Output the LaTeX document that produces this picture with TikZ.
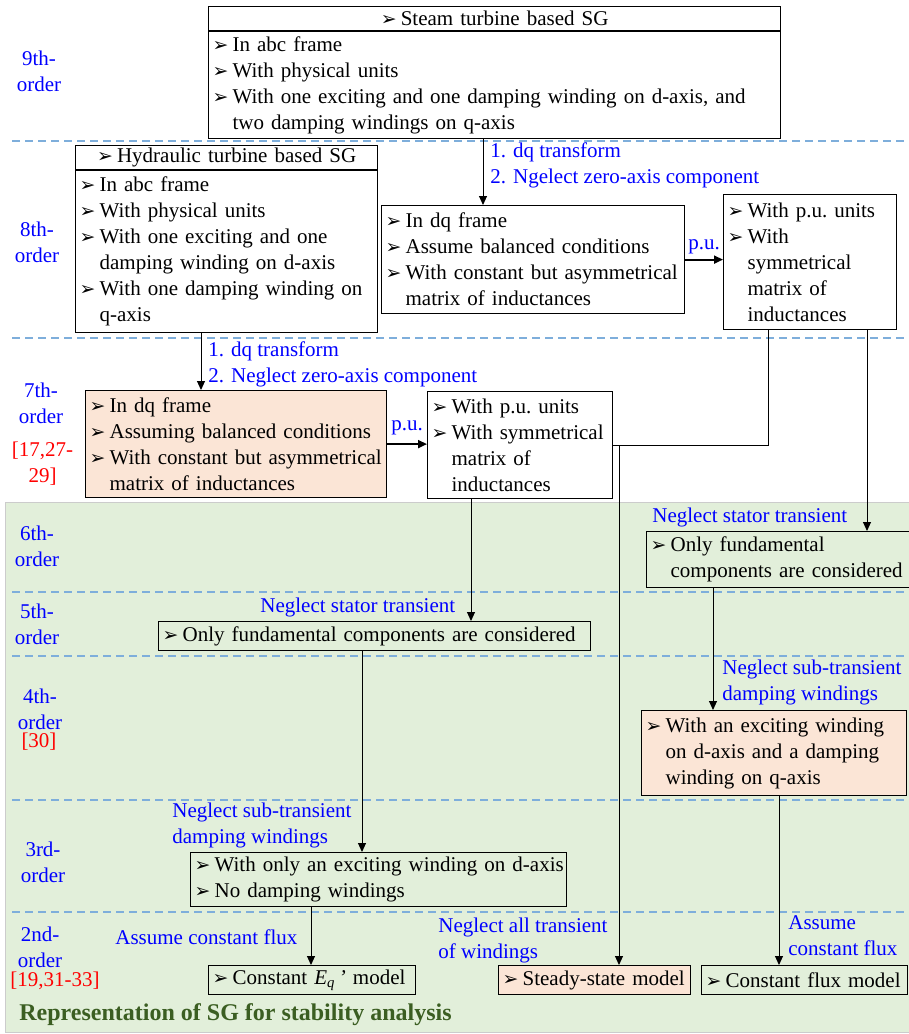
\documentclass[tikz,border=0pt]{standalone}
\usepackage{fontspec}
\setmainfont{Liberation Serif}
\newfontfamily\symfont{DejaVu Sans}[Scale=0.9]
\usepackage{xcolor}
\usetikzlibrary{arrows.meta,calc}

\definecolor{peach}{HTML}{FBE5D6}
\definecolor{bggreen}{HTML}{E2EFDA}
\definecolor{lvlblue}{HTML}{7EAEDB}
\definecolor{titlegreen}{HTML}{3B5E22}

\newcommand{\bul}{{\symfont ➢}\hspace{0.2em}}
\newcommand{\itm}[1]{\mbox{\bul #1}}
\newcommand{\cnt}[1]{\mbox{\phantom{\bul}#1}}

\begin{document}
\begin{tikzpicture}[
    x=0.5pt, y=-0.5pt,
    font=\fontsize{10.5}{13}\selectfont,
    box/.style    = {draw=black, line width=0.6pt, anchor=north west, inner xsep=2pt, inner ysep=0pt, align=left},
    hd/.style     = {box, align=center},
    pbox/.style   = {box, fill=peach},
    lbl/.style    = {text=blue, anchor=west, align=left, inner sep=0pt},
    ord/.style    = {text=blue, align=center, inner sep=0pt},
    refs/.style   = {text=red, align=center, inner sep=0pt},
    lvl/.style    = {draw=lvlblue, line width=0.7pt, dash pattern=on 4pt off 2.5pt},
    link/.style   = {draw=black, line width=0.5pt},
    arr/.style    = {link, -{Triangle[length=4.5pt,width=4pt]}},
    arrpu/.style  = {arr, line width=0.9pt},
]
\useasboundingbox (0,0) rectangle (909,1034);

%======== background and order levels ========
\fill[bggreen, draw=black!20] (5,502) rectangle (909,1032);
\foreach \y in {141, 338, 592, 656, 800, 912}
    \draw[lvl] (12,\y) -- (909,\y);

\node[ord] (o9) at (39,71)    {9th-\\order};
\node[ord] (o8) at (37,242.5) {8th-\\order};
\node[ord] (o7) at (41,403)   {7th-\\order};
\node[refs] (r7) at (42.5,464) {[17,27-\\29]};
\node[ord] (o6) at (37,546)   {6th-\\order};
\node[ord] (o5) at (37,624.5) {5th-\\order};
\node[ord] (o4) at (40,709)   {4th-\\order};
\node[refs] (r4) at (39,742)  {[30]};
\node[ord] (o3) at (43,862)   {3rd-\\order};
\node[ord] (o2) at (40,947)   {2nd-\\order};
\node[refs] (r2) at (55,981)  {[19,31-33]};

%======== 9th / 8th order ========
\node[hd, text width=282pt, minimum height=12pt] (steamhd) at (208,6) {\bul Steam turbine based SG};
\node[box, text width=282pt, minimum height=53.5pt] (steam) at (steamhd.south west)
  {\itm{In abc frame}\\ \itm{With physical units}\\
   \itm{With one exciting and one damping winding on d-axis, and}\\ \cnt{two damping windings on q-axis}};
\draw[line width=1.2pt] (steamhd.south west) -- (steamhd.south east);

\node[hd, text width=147pt, minimum height=12pt] (hydrohd) at (75,145) {\bul Hydraulic turbine based SG};
\node[box, text width=147pt, minimum height=81pt] (hydro) at (hydrohd.south west)
  {\itm{In abc frame}\\ \itm{With physical units}\\ \itm{With one exciting and one}\\
   \cnt{damping winding on d-axis}\\ \itm{With one damping winding on}\\ \cnt{q-axis}};
\draw[line width=1.2pt] (hydrohd.south west) -- (hydrohd.south east);

\node[box, text width=147.5pt, minimum height=54pt] (dqeight) at (381,205)
  {\itm{In dq frame}\\ \itm{Assume balanced conditions}\\
   \itm{With constant but asymmetrical}\\ \cnt{matrix of inductances}};
\node[box, text width=82.5pt, minimum height=67.5pt] (pueight) at (723,194)
  {\itm{With p.u.\ units}\\ \itm{With}\\ \cnt{symmetrical}\\ \cnt{matrix of}\\ \cnt{inductances}};

%======== 7th order ========
\node[pbox, text width=146.5pt, minimum height=53.5pt] (dqseven) at (85,390)
  {\itm{In dq frame}\\ \itm{Assuming balanced conditions}\\
   \itm{With constant but asymmetrical}\\ \cnt{matrix of inductances}};
\node[box, fill=white, text width=88.5pt, minimum height=53.5pt] (puseven) at (427,391)
  {\itm{With p.u.\ units}\\ \itm{With symmetrical}\\ \cnt{matrix of}\\ \cnt{inductances}};

%======== 6th to 2nd order ========
\node[box, text width=131pt, minimum height=28pt] (sixth) at (646,531)
  {\itm{Only fundamental}\\ \cnt{components are considered}};
\node[box, text width=212pt, minimum height=14.5pt] (fifth) at (158,621)
  {\itm{Only fundamental components are considered}};
\node[pbox, text width=128.5pt, minimum height=42.5pt] (fourth) at (641,710)
  {\itm{With an exciting winding}\\ \cnt{on d-axis and a damping}\\ \cnt{winding on q-axis}};
\node[box, text width=184pt, minimum height=27pt] (third) at (190,852)
  {\itm{With only an exciting winding on d-axis}\\ \itm{No damping windings}};
\node[box, text width=99.5pt, minimum height=14.5pt] (eqmodel) at (208,965)
  {\itm{Constant \textit{E}\textsubscript{\textit{q}}\,\textit{'} model}};
\node[pbox, text width=92pt, minimum height=14.5pt] (steady) at (498,965)
  {\itm{Steady-state model}};
\node[box, text width=99pt, minimum height=14.5pt] (fluxmodel) at (701,965)
  {\itm{Constant flux model}};

%======== connector columns ========
\coordinate (cx1) at (483,0);
\coordinate (cx2) at (201,0);
\coordinate (cx3) at (768,0);
\coordinate (cx4) at (867,0);
\coordinate (cx5) at (471,0);
\coordinate (cx6) at (619,0);
\coordinate (cx7) at (362,0);
\coordinate (cx8) at (713,0);
\coordinate (cx9) at (311,0);
\coordinate (cx10) at (779,0);

\draw[arr] (steam.south -| cx1) -- (dqeight.north -| cx1);
\draw[arrpu] (dqeight.east) -- (dqeight.east -| pueight.west);
\draw[arr] (hydro.south -| cx2) -- (dqseven.north -| cx2);
\draw[arrpu] (dqseven.east) -- (dqseven.east -| puseven.west);
\draw[link] (pueight.south -| cx3) |- (puseven.east);
\coordinate (jn) at (puseven.east -| cx6);
\draw[arr] (jn) -- (steady.north -| jn);
\draw[arr] (pueight.south -| cx4) -- (sixth.north -| cx4);
\draw[arr] (puseven.south -| cx5) -- (fifth.north -| cx5);
\draw[arr] (fifth.south -| cx7) -- (third.north -| cx7);
\draw[arr] (sixth.south -| cx8) -- (fourth.north -| cx8);
\draw[arr] (third.south -| cx9) -- (eqmodel.north -| cx9);
\draw[arr] (fourth.south -| cx10) -- (fluxmodel.north -| cx10);

%======== connector labels ========
\node[lbl] (dqa) at (490,165) {1. dq transform\\2. Ngelect zero-axis component};
\node[lbl] (pua) at (688,247) {p.u.};
\node[lbl] (dqb) at (208,364) {1. dq transform\\2. Neglect zero-axis component};
\node[lbl] (pub) at (391,428) {p.u.};
\node[lbl] (nst6) at (652,517) {Neglect stator transient};
\node[lbl] (nst5) at (260,607) {Neglect stator transient};
\node[lbl] (nsub4) at (722,682.5) {Neglect sub-transient\\damping windings};
\node[lbl] (nsub3) at (172,825) {Neglect sub-transient\\damping windings};
\node[lbl] (acf2) at (115,937) {Assume constant flux};
\node[lbl] (nall) at (438,940) {Neglect all transient\\of windings};
\node[lbl] (acf4) at (788,936) {Assume\\constant flux};

\node[anchor=west, inner sep=0pt, font=\fontsize{12}{14}\selectfont\bfseries, text=titlegreen] (title)
  at (19,1015) {Representation of SG for stability analysis};
\end{tikzpicture}
\end{document}
